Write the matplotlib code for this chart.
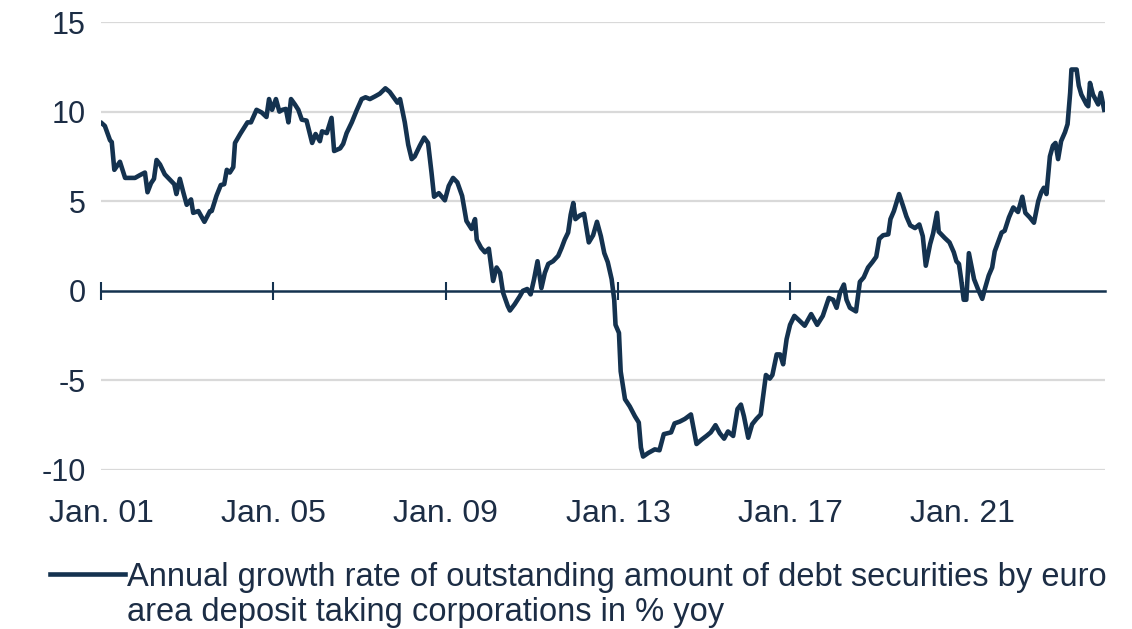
import matplotlib
matplotlib.use("Agg")
import matplotlib.pyplot as plt
from matplotlib.lines import Line2D

# Annual growth rate of debt securities issued by euro area deposit taking corporations (% yoy)
dates = [
    2001.02, 2001.09, 2001.21, 2001.25, 2001.31, 2001.44, 2001.56, 2001.79, 2001.90, 2002.02,
    2002.08, 2002.16, 2002.23, 2002.29, 2002.37, 2002.48, 2002.60, 2002.70, 2002.75, 2002.83,
    2002.91, 2002.99, 2003.09, 2003.14, 2003.26, 2003.40, 2003.53, 2003.57, 2003.68, 2003.78,
    2003.86, 2003.92, 2003.99, 2004.07, 2004.11, 2004.23, 2004.40, 2004.48, 2004.61, 2004.73,
    2004.84, 2004.90, 2004.97, 2005.06, 2005.14, 2005.21, 2005.29, 2005.35, 2005.41, 2005.50,
    2005.58, 2005.66, 2005.77, 2005.90, 2005.98, 2006.08, 2006.13, 2006.24, 2006.35, 2006.41,
    2006.55, 2006.62, 2006.70, 2006.82, 2006.93, 2007.05, 2007.14, 2007.24, 2007.36, 2007.47,
    2007.60, 2007.70, 2007.82, 2007.88, 2007.94, 2008.05, 2008.13, 2008.21, 2008.28, 2008.40,
    2008.50, 2008.59, 2008.67, 2008.73, 2008.84, 2008.98, 2009.07, 2009.17, 2009.27, 2009.38,
    2009.48, 2009.60, 2009.68, 2009.72, 2009.82, 2009.91, 2010.00, 2010.10, 2010.18, 2010.26,
    2010.33, 2010.44, 2010.49, 2010.60, 2010.72, 2010.79, 2010.89, 2010.97, 2011.05, 2011.13,
    2011.22, 2011.30, 2011.38, 2011.49, 2011.61, 2011.69, 2011.76, 2011.84, 2011.90, 2011.96,
    2012.01, 2012.11, 2012.21, 2012.32, 2012.42, 2012.51, 2012.60, 2012.68, 2012.76, 2012.85,
    2012.91, 2012.94, 2013.02, 2013.06, 2013.16, 2013.27, 2013.39, 2013.48, 2013.53, 2013.58,
    2013.70, 2013.85, 2013.96, 2014.06, 2014.15, 2014.23, 2014.31, 2014.43, 2014.55, 2014.69,
    2014.82, 2014.94, 2015.05, 2015.15, 2015.26, 2015.36, 2015.46, 2015.55, 2015.67, 2015.77,
    2015.85, 2015.92, 2016.02, 2016.11, 2016.21, 2016.31, 2016.37, 2016.43, 2016.52, 2016.58,
    2016.68, 2016.76, 2016.83, 2016.91, 2016.99, 2017.09, 2017.18, 2017.33, 2017.48, 2017.62,
    2017.75, 2017.89, 2017.99, 2018.07, 2018.15, 2018.24, 2018.30, 2018.38, 2018.52, 2018.61,
    2018.70, 2018.80, 2018.90, 2018.99, 2019.06, 2019.15, 2019.27, 2019.32, 2019.40, 2019.52,
    2019.61, 2019.69, 2019.78, 2019.89, 2019.99, 2020.07, 2020.14, 2020.24, 2020.31, 2020.40,
    2020.44, 2020.58, 2020.69, 2020.79, 2020.85, 2020.91, 2020.96, 2021.02, 2021.08, 2021.14,
    2021.26, 2021.35, 2021.45, 2021.51, 2021.60, 2021.68, 2021.74, 2021.84, 2021.90, 2021.97,
    2022.07, 2022.17, 2022.28, 2022.38, 2022.45, 2022.55, 2022.65, 2022.75, 2022.82, 2022.88,
    2022.94, 2023.02, 2023.09, 2023.15, 2023.21, 2023.28, 2023.37, 2023.43, 2023.49, 2023.52,
    2023.64, 2023.69, 2023.75, 2023.87, 2023.91, 2023.95, 2024.02, 2024.14, 2024.20, 2024.28,
]
growth = [
    9.35, 9.2, 8.4, 8.3, 6.75, 7.2, 6.3, 6.3, 6.45, 6.6,
    5.5, 6.0, 6.25, 7.3, 7.05, 6.5, 6.2, 5.95, 5.4, 6.25,
    5.5, 4.8, 5.1, 4.35, 4.45, 3.85, 4.45, 4.45, 5.3, 5.9,
    5.95, 6.75, 6.6, 6.9, 8.25, 8.75, 9.4, 9.4, 10.1, 9.95,
    9.7, 10.7, 10.1, 10.7, 10.0, 10.1, 10.15, 9.4, 10.7, 10.4,
    10.1, 9.55, 9.5, 8.25, 8.75, 8.35, 8.9, 8.8, 9.65, 7.8,
    7.95, 8.2, 8.8, 9.4, 10.05, 10.7, 10.8, 10.7, 10.85, 11.0,
    11.3, 11.1, 10.7, 10.5, 10.7, 9.4, 8.15, 7.35, 7.5, 8.1,
    8.55, 8.25, 6.6, 5.25, 5.45, 5.05, 5.85, 6.3, 6.05, 5.3,
    3.9, 3.45, 4.0, 2.85, 2.4, 2.15, 2.35, 0.55, 1.3, 1.0,
    -0.1, -0.85, -1.1, -0.75, -0.3, 0.0, 0.1, -0.2, 0.65, 1.65,
    0.15, 1.0, 1.5, 1.65, 1.95, 2.4, 2.85, 3.25, 4.25, 4.9,
    4.0, 4.2, 4.3, 2.7, 3.1, 3.85, 3.05, 2.1, 1.6, 0.65,
    -0.5, -1.9, -2.35, -4.5, -6.05, -6.45, -7.0, -7.35, -8.75, -9.25,
    -9.05, -8.85, -8.9, -8.0, -7.95, -7.9, -7.4, -7.3, -7.15, -6.9,
    -8.55, -8.3, -8.1, -7.9, -7.5, -7.95, -8.25, -7.85, -8.1, -6.6,
    -6.35, -7.0, -8.2, -7.45, -7.15, -6.9, -5.8, -4.7, -4.9, -4.7,
    -3.55, -3.55, -4.1, -2.7, -1.9, -1.4, -1.6, -1.95, -1.3, -1.9,
    -1.4, -0.4, -0.5, -0.95, -0.1, 0.35, -0.5, -0.95, -1.15, 0.5,
    0.75, 1.3, 1.6, 1.9, 2.9, 3.1, 3.15, 4.0, 4.45, 5.4,
    4.75, 4.15, 3.65, 3.5, 3.7, 3.05, 1.4, 2.6, 3.2, 4.35,
    3.3, 2.95, 2.7, 2.15, 1.65, 1.5, 0.65, -0.5, -0.5, 2.1,
    0.65, 0.1, -0.45, 0.1, 0.85, 1.3, 2.2, 2.85, 3.25, 3.35,
    4.1, 4.65, 4.4, 5.25, 4.35, 4.1, 3.8, 5.0, 5.5, 5.75,
    5.4, 7.5, 8.1, 8.25, 7.35, 8.35, 8.85, 9.3, 11.05, 12.35,
    12.35, 11.45, 10.95, 10.4, 10.3, 11.6, 10.95, 10.4, 11.05, 10.1,
]

tick_years = [2001, 2005, 2009, 2013, 2017, 2021]
tick_labels = ["Jan. 01", "Jan. 05", "Jan. 09", "Jan. 13", "Jan. 17", "Jan. 21"]
y_ticks = [-10, -5, 0, 5, 10, 15]

navy = "#14324f"
text_col = "#1c2d45"
grid_col = "#d9d9d9"

plt.rcParams["font.family"] = ["Liberation Sans", "DejaVu Sans"]
plt.rcParams["axes.unicode_minus"] = False

fig = plt.figure(figsize=(11.32, 6.29), dpi=100)
ax = fig.add_axes([0.0892, 0.2528, 0.887, 0.7122])

ax.set_xlim(2001.0, 2024.3)
ax.set_ylim(-10, 15)

# grid lines, the zero line is drawn by the shifted bottom spine
for y in y_ticks:
    if y != 0:
        ax.axhline(y, color=grid_col, lw=1.6, zorder=1)

ax.plot(dates, growth, color=navy, lw=3.3, solid_joinstyle="round", zorder=3)

for side in ["top", "right", "left"]:
    ax.spines[side].set_visible(False)
ax.spines["bottom"].set_position(("data", 0))
ax.spines["bottom"].set_color(navy)
ax.spines["bottom"].set_linewidth(1.8)
ax.spines["bottom"].set_zorder(2)

ax.set_xticks(tick_years)
ax.tick_params(axis="x", direction="inout", length=13, width=1.5, color=navy,
               labelbottom=False)
ax.set_yticks(y_ticks)
ax.tick_params(axis="y", length=0, pad=11, labelcolor=text_col, labelsize=22)

# date labels sit under the plot area
sec = ax.secondary_xaxis(0)
sec.set_xticks(tick_years, tick_labels)
sec.tick_params(length=0, pad=21, labelcolor=text_col, labelsize=23)
sec.spines["bottom"].set_visible(False)

handle = Line2D([], [], color=navy, lw=3.3)
leg = fig.legend([handle], ["Annual growth rate of outstanding amount of debt securities by euro"],
                 loc="upper left", bbox_to_anchor=(0.044, 0.107), frameon=False,
                 handlelength=2.3, handletextpad=0.08, borderpad=0, borderaxespad=0,
                 labelcolor=text_col, fontsize=23.5)
fig.canvas.draw()
tb = leg.get_texts()[0].get_window_extent()
x0 = fig.transFigure.inverted().transform((tb.x0, tb.y0))[0]
fig.text(x0, 0.027, "area deposit taking corporations in % yoy", color=text_col,
         ha="left", va="center", fontsize=23.5)

fig.savefig("out.png", dpi=100)
